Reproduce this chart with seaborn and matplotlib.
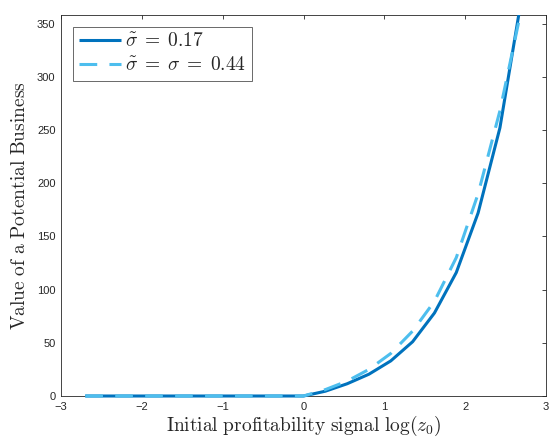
import numpy as np
import pandas as pd
import matplotlib
matplotlib.use("Agg")
import matplotlib.pyplot as plt
import matplotlib.patches as mpatches
import seaborn as sns

# signal grid and business value
log_z0 = [-2.7, -2.43, -2.16, -1.89, -1.62, -1.35, -1.08, -0.81, -0.54, -0.27,
          0.0, 0.27, 0.54, 0.81, 1.08, 1.35, 1.62, 1.89, 2.16, 2.43, 2.7]
value_low = [0, 0, 0, 0, 0, 0, 0, 0, 0, 0,
             0, 4.5, 11.5, 20.5, 33, 51, 78, 116, 172, 252, 375]
value_high = [0, 0, 0, 0, 0, 0, 0, 0, 0, 0,
              0, 6, 14, 25, 40, 61, 89, 130, 190, 268, 365]
labels = [r'$\tilde{\sigma}\;=\;0.17$', r'$\tilde{\sigma}\;=\;\sigma\;=\;0.44$']

sns.set_style("white")
plt.rcParams['font.family'] = ['Liberation Sans', 'DejaVu Sans']
plt.rcParams['mathtext.fontset'] = 'cm'

df = pd.DataFrame({
    'x': log_z0 * 2,
    'y': value_low + value_high,
    'case': [labels[0]] * len(log_z0) + [labels[1]] * len(log_z0),
})

fig = plt.figure(figsize=(5.54, 4.41), dpi=100)
ax = fig.add_axes([61 / 554, 45 / 441, 485 / 554, 381 / 441])

sns.lineplot(data=df, x='x', y='y', hue='case', style='case',
             palette=['#0072BD', '#4DBEEE'],
             dashes=[(1, 0), (5.8, 4.0)], linewidth=2.2, ax=ax)

# let the zero line show at full width, clip only at the top
clip = mpatches.Rectangle((0, -0.05), 1, 1.05, transform=ax.transAxes,
                          fill=False, visible=False)
ax.add_patch(clip)
for ln in ax.get_lines():
    ln.set_clip_path(clip)
    # dashed light line goes over the solid one
    ln.set_zorder(4 if ln.get_color() == '#4DBEEE' or ln.get_linestyle() != '-' else 3)

ax.set_xlim(-3, 3)
ax.set_ylim(0, 358)
ax.set_xticks(range(-3, 4))
ax.set_yticks(range(0, 351, 50))
ax.tick_params(direction='in', length=3, width=0.6, colors='#262626',
               labelsize=8, top=True, right=True, pad=4)
for s in ax.spines.values():
    s.set_color('#262626')
    s.set_linewidth(0.6)
    s.set_zorder(2)

ax.set_xlabel(r'$\mathrm{Initial\ profitability\ signal}\ \log(z_0)$',
              fontsize=14, color='#262626', labelpad=2)
ax.set_ylabel(r'$\mathrm{Value\ of\ a\ Potential\ Business}$',
              fontsize=14, color='#262626', labelpad=6)

leg = ax.legend(loc='upper left', fontsize=14, frameon=True, fancybox=False,
                edgecolor='#262626', handlelength=2.2, handletextpad=0.2,
                borderpad=0.3, labelspacing=0.3, borderaxespad=0.6)
leg.get_frame().set_linewidth(0.6)
leg.set_zorder(10)

fig.savefig('out.png', dpi=100)
